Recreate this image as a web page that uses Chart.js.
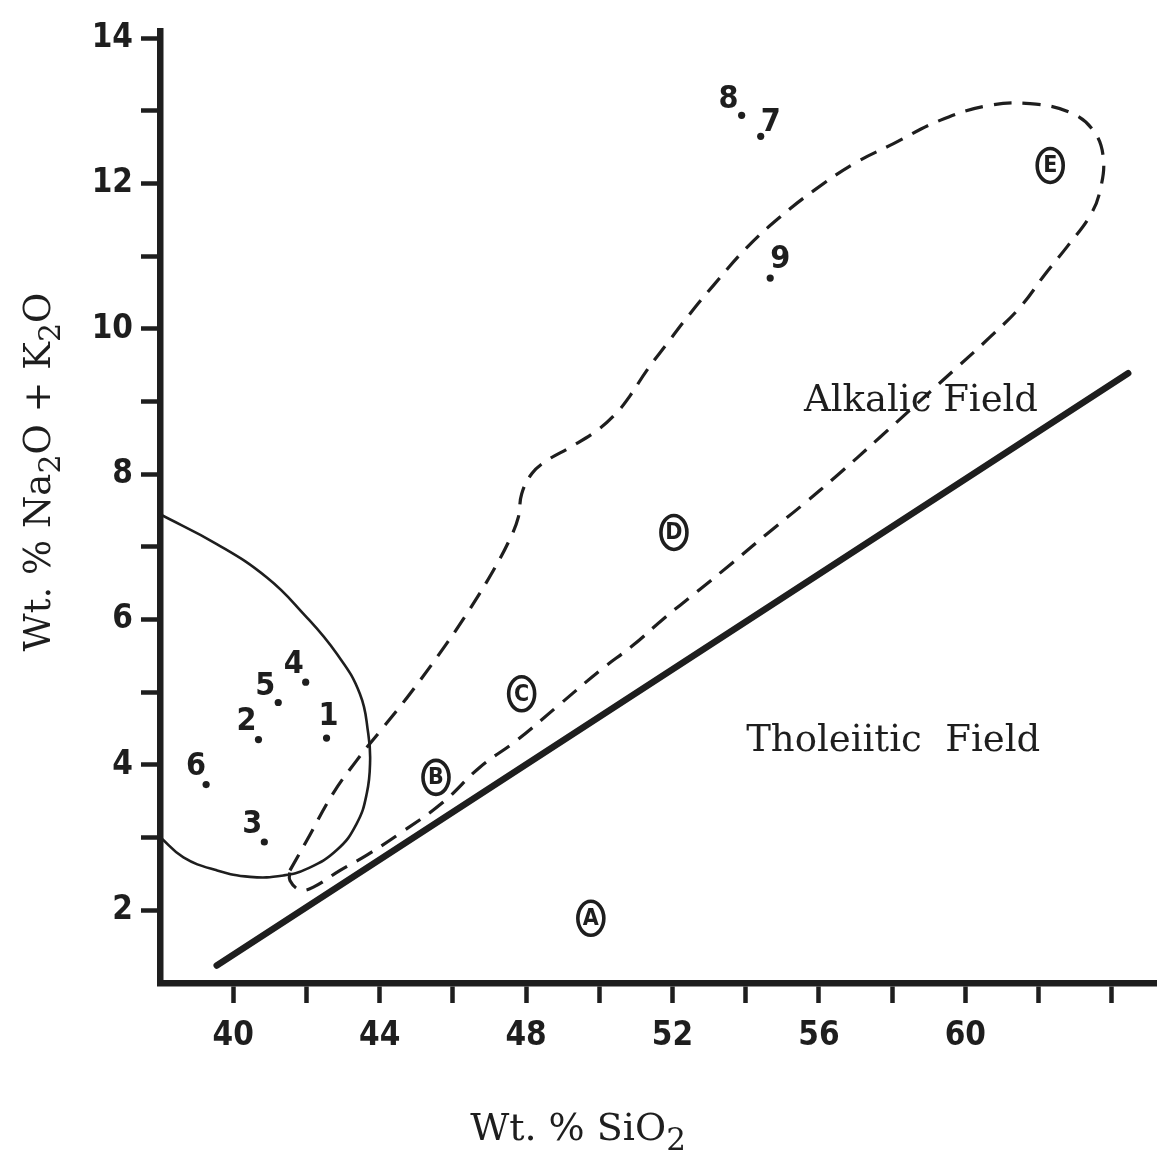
<!DOCTYPE html>
<html><head><meta charset="utf-8">
<script src="https://cdn.jsdelivr.net/npm/chart.js@4.4.1/dist/chart.umd.min.js"></script>
<style>html,body{margin:0;padding:0;background:#fff;}canvas{display:block;}</style>
</head><body>
<canvas id="c" width="1161" height="1158"></canvas>
<script>
// ---- data ----
const sampleLabels = ['1','2','3','4','5','6','7','8','9'];
const sampleSiO2   = [42.55, 40.69, 40.85, 41.98, 41.23, 39.26, 54.41, 53.89, 54.67];
const sampleAlk    = [4.37, 4.35, 2.94, 5.14, 4.86, 3.73, 12.65, 12.94, 10.70];

const groupLabels = ['A','B','C','D','E'];
const groupSiO2   = [49.77, 45.54, 47.88, 52.04, 62.32];
const groupAlk    = [1.89, 3.83, 4.98, 7.20, 12.25];

const dividerSiO2 = [39.55, 64.45];
const dividerAlk  = [1.24, 9.39];

const solidFieldSiO2 = [38.0, 39.55, 40.92, 41.92, 42.83, 43.46, 43.69, 43.74, 43.65, 43.37, 42.83, 42.01, 41.37, 40.46, 39.55, 38.64, 38.0];
const solidFieldAlk  = [7.45, 7.04, 6.58, 6.08, 5.53, 4.98, 4.43, 4.06, 3.61, 3.19, 2.83, 2.57, 2.48, 2.46, 2.55, 2.73, 3.01];

const dashedFieldSiO2 = [41.55, 42.01, 42.73, 43.37, 44.10, 44.83, 45.83, 46.47, 47.11, 47.56, 47.79, 47.88, 48.16, 48.57, 49.20, 49.93, 50.48, 50.84, 51.30, 51.84, 52.48, 53.12, 54.03, 54.94, 55.85, 56.94, 58.04, 59.31, 60.59, 61.77, 62.86, 63.50, 63.77, 63.68, 63.41, 62.81, 62.19, 61.50, 60.68, 59.77, 57.67, 56.49, 55.58, 54.58, 53.66, 52.66, 51.75, 50.93, 50.02, 48.84, 47.75, 46.74, 45.74, 44.56, 43.65, 42.92, 42.19, 41.83, 41.55, 41.55];
const dashedFieldAlk  = [2.55, 2.96, 3.61, 4.06, 4.52, 4.98, 5.67, 6.15, 6.68, 7.11, 7.41, 7.73, 8.01, 8.19, 8.37, 8.60, 8.85, 9.08, 9.43, 9.79, 10.21, 10.60, 11.12, 11.54, 11.90, 12.27, 12.55, 12.87, 13.07, 13.10, 12.98, 12.73, 12.36, 11.90, 11.56, 11.15, 10.76, 10.30, 9.89, 9.47, 8.51, 7.98, 7.59, 7.18, 6.79, 6.38, 6.01, 5.65, 5.30, 4.80, 4.34, 3.97, 3.49, 3.06, 2.76, 2.55, 2.32, 2.28, 2.41, 2.55];

const fieldNames    = ['Alkalic Field', 'Tholeiitic  Field'];
const fieldNameSiO2 = [58.79, 58.03];
const fieldNameAlk  = [9.01, 4.32];

const xTickValues = [40, 42, 44, 46, 48, 50, 52, 54, 56, 58, 60, 62, 64];
const xTickLabels = ['40', '', '44', '', '48', '', '52', '', '56', '', '60', '', ''];
const yTickValues = [2, 3, 4, 5, 6, 7, 8, 9, 10, 11, 12, 13, 14];
const yTickLabels = ['2', '', '4', '', '6', '', '8', '', '10', '', '12', '', '14'];

const xTitleParts = [['Wt. % SiO', false], ['2', true]];
const yTitleParts = [['Wt. % Na', false], ['2', true], ['O + K', false], ['2', true], ['O', false]];

// ---- styles ----
const INK = '#1e1e1e';
const NUM_FONT = "'Liberation Sans Narrow', 'DejaVu Sans Condensed', 'Liberation Sans', sans-serif";
const SERIF = "'DejaVu Serif', serif";
const sampleLabelOffsets = [[2,-21],[-12,-18],[-12,-17],[-12,-17],[-13,-16],[-10,-18],[10,-14],[-13,-16],[10,-18]];

const zip = (xs, ys) => xs.map((x, i) => ({x: x, y: ys[i]}));

function drawParts(ctx, parts, size) {
  const subSize = Math.round(size * 0.82);
  let w = 0;
  parts.forEach(([t, sub]) => { ctx.font = (sub ? subSize : size) + 'px ' + SERIF; w += ctx.measureText(t).width; });
  let x = -w / 2;
  parts.forEach(([t, sub]) => {
    ctx.font = (sub ? subSize : size) + 'px ' + SERIF;
    ctx.fillText(t, x, sub ? Math.round(size * 0.26) : 0);
    x += ctx.measureText(t).width;
  });
}

const annotate = {
  id: 'annotate',
  afterDatasetsDraw(chart) {
    const ctx = chart.ctx;
    ctx.save();
    ctx.fillStyle = INK;
    ctx.strokeStyle = INK;
    const sm = chart.getDatasetMeta(3);
    ctx.font = 'bold 32px ' + NUM_FONT;
    ctx.textAlign = 'center';
    ctx.textBaseline = 'middle';
    sm.data.forEach((el, i) => {
      const o = sampleLabelOffsets[i];
      ctx.fillText(sampleLabels[i], el.x + o[0], el.y + o[1]);
    });
    const gm = chart.getDatasetMeta(4);
    gm.data.forEach((el, i) => {
      ctx.lineWidth = 3.6;
      ctx.beginPath();
      ctx.ellipse(el.x, el.y, 13, 17, 0, 0, Math.PI * 2);
      ctx.stroke();
      ctx.font = 'bold 23px ' + NUM_FONT;
      ctx.fillText(groupLabels[i], el.x, el.y + 1);
    });
    const fm = chart.getDatasetMeta(5);
    ctx.font = '37px ' + SERIF;
    fm.data.forEach((el, i) => { ctx.fillText(fieldNames[i], el.x, el.y); });
    ctx.restore();
  },
  afterDraw(chart) {
    const ctx = chart.ctx;
    ctx.save();
    ctx.fillStyle = INK;
    ctx.textAlign = 'left';
    ctx.textBaseline = 'alphabetic';
    ctx.translate(578, 1140);
    drawParts(ctx, xTitleParts, 38);
    ctx.restore();
    ctx.save();
    ctx.fillStyle = INK;
    ctx.textAlign = 'left';
    ctx.textBaseline = 'alphabetic';
    ctx.translate(50, 472);
    ctx.rotate(-Math.PI / 2);
    drawParts(ctx, yTitleParts, 37);
    ctx.restore();
  }
};

const tickFont = {family: NUM_FONT, size: 33, weight: 'bold'};

new Chart(document.getElementById('c'), {
  type: 'scatter',
  data: {
    datasets: [
      {data: zip(dividerSiO2, dividerAlk), showLine: true, borderColor: INK, borderWidth: 6.5, borderCapStyle: 'round', pointRadius: 0},
      {data: zip(solidFieldSiO2, solidFieldAlk), showLine: true, borderColor: INK, borderWidth: 2.6, tension: 0.45, pointRadius: 0},
      {data: zip(dashedFieldSiO2, dashedFieldAlk), showLine: true, borderColor: INK, borderWidth: 3.2, borderDash: [18, 11], tension: 0.4, pointRadius: 0},
      {data: zip(sampleSiO2, sampleAlk), showLine: false, pointRadius: 3.6, backgroundColor: INK, borderWidth: 0},
      {data: zip(groupSiO2, groupAlk), showLine: false, pointRadius: 0},
      {data: zip(fieldNameSiO2, fieldNameAlk), showLine: false, pointRadius: 0}
    ]
  },
  options: {
    responsive: false,
    animation: false,
    events: [],
    layout: {padding: {left: 0, right: 5, top: 31, bottom: 0}},
    plugins: {legend: {display: false}, tooltip: {enabled: false}},
    scales: {
      x: {
        type: 'linear', min: 38, max: 65.21,
        afterBuildTicks: s => { s.ticks = xTickValues.map(v => ({value: v})); },
        afterFit: s => { s.height = 175; },
        ticks: {autoSkip: false, maxRotation: 0, padding: 14, color: INK, font: tickFont,
                callback: v => xTickLabels[xTickValues.indexOf(v)] ?? ''},
        grid: {display: true, drawOnChartArea: false, drawTicks: true, tickLength: 20, tickWidth: 4.5, tickColor: INK},
        border: {display: true, width: 6.5, color: INK}
      },
      y: {
        type: 'linear', min: 1, max: 14.1,
        afterBuildTicks: s => { s.ticks = yTickValues.map(v => ({value: v})); },
        afterFit: s => { s.width = 160; },
        ticks: {autoSkip: false, padding: 8, color: INK, font: tickFont,
                callback: v => yTickLabels[yTickValues.indexOf(v)] ?? ''},
        grid: {display: true, drawOnChartArea: false, drawTicks: true, tickLength: 19, tickWidth: 4.5, tickColor: INK},
        border: {display: true, width: 6.5, color: INK}
      }
    }
  },
  plugins: [annotate]
});
</script>
</body></html>
